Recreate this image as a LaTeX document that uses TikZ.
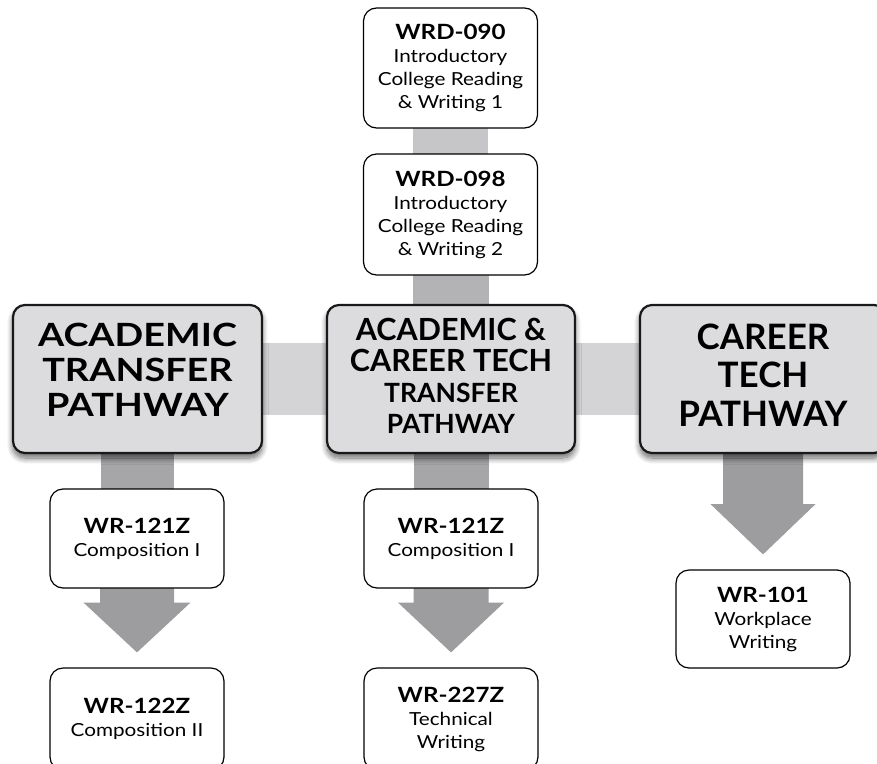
\documentclass[tikz,border=0pt]{standalone}
\usepackage{fontspec}
\setmainfont{Lato}
\newfontfamily\widefont{Lato}[FakeStretch=1.15]
\newfontfamily\wideheadfont{Lato}[FakeStretch=1.18]
\usetikzlibrary{calc,shadows.blur}
\pgfdeclarelayer{bg}
\pgfsetlayers{bg,main}
\definecolor{mainfill}{HTML}{DCDCDE}
\definecolor{barlight}{HTML}{D4D4D6}
\definecolor{barmid}{HTML}{C6C6C9}
\definecolor{bardark}{HTML}{A6A6A9}
\definecolor{barupper}{HTML}{B3B3B6}
\definecolor{arrowgray}{HTML}{9D9DA0}
\tikzset{
  mainbox/.style={draw=black!90, line width=2.2pt, fill=mainfill, rounded corners=12pt,
    align=center, inner sep=0pt,
    blur shadow={shadow xshift=0pt, shadow yshift=-5pt, shadow blur radius=6pt, shadow blur steps=10, shadow opacity=60}},
  coursebox/.style={draw=black, line width=1.2pt, fill=white, rounded corners=13pt,
    minimum width=174pt, align=center, inner sep=0pt,
    font=\widefont\fontsize{18}{23}\selectfont},
  lightbar/.style={fill=barlight},
  midbar/.style={fill=barmid},
  upperbar/.style={fill=barupper},
  darkbar/.style={fill=bardark},
  blockarrow/.style={fill=arrowgray}
}
\newcommand{\code}[1]{{\bfseries\fontsize{21}{23}\selectfont #1}}
\begin{document}
\begin{tikzpicture}[x=1pt,y=1pt]
\useasboundingbox (0,0) rectangle (877,-763);
% course boxes at top
\node[coursebox, minimum height=120pt] (wrd090) at (450.5,-68)
  {\code{WRD-090}\\Introductory\\College Reading\\\& Writing 1};
\node[coursebox, minimum height=121pt] (wrd098) at (450.5,-214.5)
  {\code{WRD-098}\\Introductory\\College Reading\\\& Writing 2};
% main boxes
\node[mainbox, minimum width=249pt, minimum height=148pt, text depth=18pt,
      font=\wideheadfont\bfseries\fontsize{32}{35}\selectfont] (at) at (137.5,-379)
  {ACADEMIC\\TRANSFER\\PATHWAY};
\node[mainbox, minimum width=248pt, minimum height=148pt, text depth=6pt,
      font=\bfseries\fontsize{30.5}{31}\selectfont] (act) at (451,-379)
  {ACADEMIC \&\\CAREER TECH\\{\fontsize{26.5}{29}\selectfont TRANSFER}\\{\fontsize{26.5}{30}\selectfont PATHWAY}};
\node[mainbox, minimum width=246pt, minimum height=148pt, text depth=8pt,
      font=\bfseries\fontsize{35}{38.5}\selectfont] (ct) at (763,-379)
  {CAREER\\TECH\\PATHWAY};
% lower course boxes
\node[coursebox, minimum height=99pt] (wr121a) at (137,-538.5)
  {\code{WR-121Z}\\Composition I};
\node[coursebox, minimum height=102pt] (wr122) at (137,-719)
  {\code{WR-122Z}\\Composition II};
\node[coursebox, minimum height=99pt] (wr121b) at (451,-538.5)
  {\code{WR-121Z}\\Composition I};
\node[coursebox, minimum height=102pt] (wr227) at (451,-719)
  {\code{WR-227Z}\\Technical\\Writing};
\node[coursebox, minimum height=98pt] (wr101) at (763,-619)
  {\code{WR-101}\\Workplace\\Writing};
% connectors
\begin{pgfonlayer}{bg}
\fill[midbar] ($(wrd090.south)+(-37.5,1)$) rectangle ($(wrd098.north)+(37.5,-1)$);
\fill[upperbar] ($(wrd098.south)+(-37.5,1)$) rectangle ($(act.north)+(37.5,-2)$);
\fill[lightbar] ($(at.east)+(-2,36)$) rectangle ($(act.west)+(2,-36)$);
\fill[lightbar] ($(act.east)+(-2,36)$) rectangle ($(ct.west)+(2,-36)$);
\fill[darkbar] ($(at.south)+(-37,2)$) rectangle ($(wr121a.north)+(37,-1)$);
\fill[darkbar] ($(act.south)+(-37.5,2)$) rectangle ($(wr121b.north)+(37.5,-1)$);
\fill[blockarrow] ($(wr121a.south)+(-37,1)$) -- ($(wr121a.south)+(-37,-14)$) -- ($(wr121a.south)+(-53.5,-14)$)
  -- ($(wr122.north)+(0,15)$) -- ($(wr121a.south)+(53.5,-14)$) -- ($(wr121a.south)+(37,-14)$)
  -- ($(wr121a.south)+(37,1)$) -- cycle;
\fill[blockarrow] ($(wr121b.south)+(-37.5,1)$) -- ($(wr121b.south)+(-37.5,-14)$) -- ($(wr121b.south)+(-53,-14)$)
  -- ($(wr227.north)+(0,15)$) -- ($(wr121b.south)+(53,-14)$) -- ($(wr121b.south)+(37.5,-14)$)
  -- ($(wr121b.south)+(37.5,1)$) -- cycle;
\fill[blockarrow] ($(ct.south)+(-40,2)$) -- ($(ct.south)+(-40,-50)$) -- ($(ct.south)+(-52.5,-50)$)
  -- ($(wr101.north)+(0,15)$) -- ($(ct.south)+(52.5,-50)$) -- ($(ct.south)+(40,-50)$)
  -- ($(ct.south)+(40,2)$) -- cycle;
\end{pgfonlayer}
\end{tikzpicture}
\end{document}
